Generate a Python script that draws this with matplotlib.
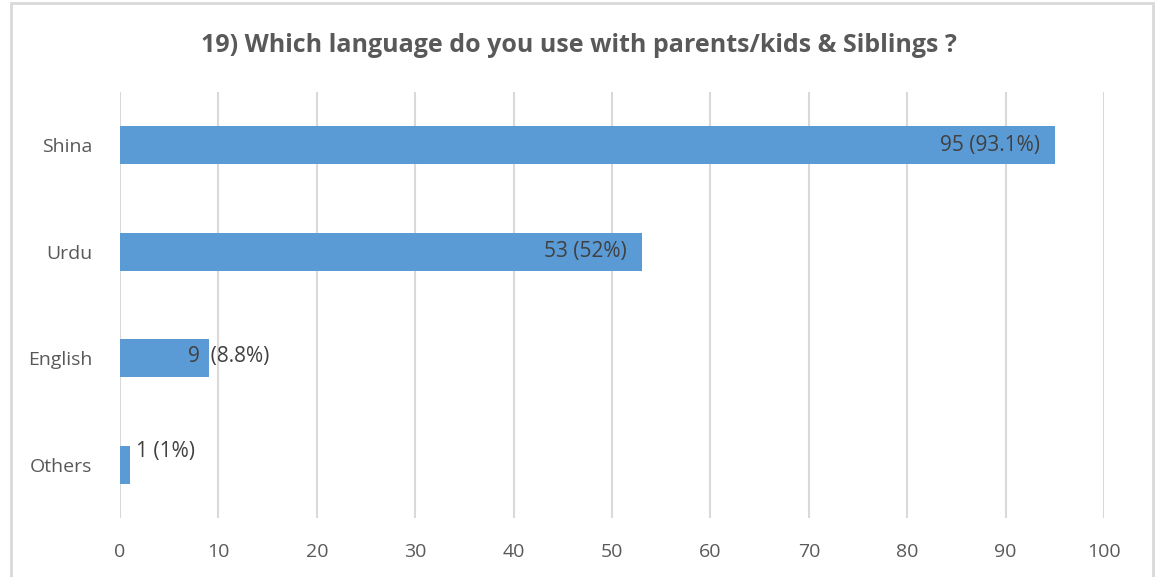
import matplotlib.pyplot as plt
from matplotlib.patches import Rectangle

languages = ["Shina", "Urdu", "English", "Others"]
counts = [95, 53, 9, 1]
shares = ["93.1%", "52%", "8.8%", "1%"]
x_ticks = list(range(0, 101, 10))

bar_color = "#5B9BD5"
text_color = "#595959"
grid_color = "#D9D9D9"

plt.rcParams["font.family"] = ["Open Sans", "DejaVu Sans"]

fig = plt.figure(figsize=(11.58, 5.77), dpi=100)
ax = fig.add_axes([0.1036, 0.1023, 0.8498, 0.7383])

# Chart-area frame (open at the bottom edge)
fig.patches.append(
    Rectangle((11 / 1158, -0.05), (1153 - 11) / 1158, 1.05 - 3 / 577,
              transform=fig.transFigure, fill=False, edgecolor=grid_color,
              linewidth=2, zorder=0)
)

ypos = list(range(len(languages)))
ax.barh(ypos, counts, height=0.36, color=bar_color, zorder=2)

ax.set_xlim(0, 100)
ax.set_ylim(3.5, -0.5)
ax.set_xticks(x_ticks)
ax.set_yticks(ypos)
ax.set_yticklabels(languages)
ax.tick_params(axis="both", length=0, colors=text_color, labelsize=14)
ax.tick_params(axis="x", pad=18)
ax.tick_params(axis="y", pad=20)
ax.grid(axis="x", color=grid_color, linewidth=1.5, zorder=1)
for spine in ax.spines.values():
    spine.set_visible(False)

# Value labels: "count (share)"
for i, (c, s) in enumerate(zip(counts, shares)):
    if c > 20:
        ax.text(c - 1.5, i, f"{c} ({s})", ha="right", va="center",
                fontsize=15, color="#404040", zorder=3)
    elif c > 5:
        ax.text(c - 2.1, i - 0.02, f"{c}  ({s})", ha="left", va="center",
                fontsize=15, color="#404040", zorder=3)
    else:
        ax.text(c + 0.6, i - 0.12, f"{c} ({s})", ha="left", va="center",
                fontsize=15, color="#404040", zorder=3)

fig.text(0.5, 1 - 45 / 577, "19) Which language do you use with parents/kids & Siblings ?",
         ha="center", va="center", fontsize=18, fontweight="bold", color=text_color)

fig.savefig("out.png", dpi=100)
